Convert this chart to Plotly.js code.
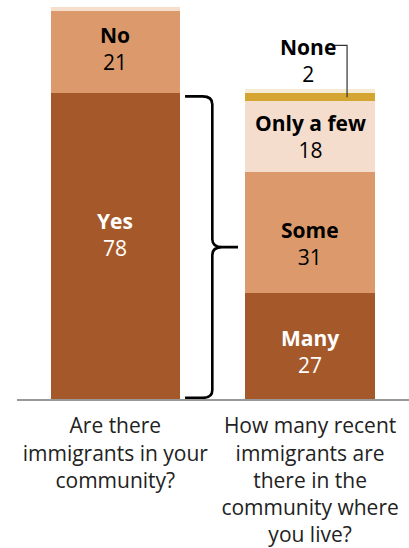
<!DOCTYPE html>
<html>
<head>
<meta charset="utf-8">
<script src="https://cdn.plot.ly/plotly-3.0.1.min.js"></script>
<style>html,body{margin:0;padding:0;background:#fff;}#chart{width:409px;height:548px;}</style>
</head>
<body>
<div id="chart"></div>
<script>
// ---- data ----
const questions = [
  'Are there<br>immigrants in your<br>community?',
  'How many recent<br>immigrants are<br>there in the<br>community where<br>you live?'
];
const leftCats = ['Yes', 'No', 'DK'];
const leftVals = [78, 21, 1];
const rightCats = ['Many', 'Some', 'Only a few', 'None', 'DK'];
const rightVals = [27, 31, 18, 2, 1];

// ---- styles ----
const leftColors = ['#a5592a', '#dc9a6c', '#f5decc'];
const rightColors = ['#a5592a', '#dc9a6c', '#f5ddcd', '#d4a530', '#f5ecd5'];
const leftTextColors = ['#ffffff', '#000000', null];
const rightTextColors = ['#ffffff', '#000000', '#000000', null, null];
const leftShift = [12, 4, 0];
const rightShift = [-5, -11, 0, 0, 0];
const FONT = 'Open Sans, Arial, sans-serif';
const barW = 0.664;

const traces = [];
const annotations = [];

function addBar(xpos, cats, vals, colors, textColors, shifts) {
  let base = 0;
  cats.forEach((c, i) => {
    traces.push({
      type: 'bar', x: [xpos], y: [vals[i]], width: [barW], name: c,
      marker: {color: colors[i], line: {width: 0}},
      hoverinfo: 'skip', showlegend: false
    });
    if (textColors[i]) {
      annotations.push({
        x: xpos, y: base + vals[i] / 2, xref: 'x', yref: 'y',
        text: '<b>' + c + '</b><br>' + vals[i], showarrow: false,
        font: {family: FONT, size: 21, color: textColors[i]},
        xanchor: 'center', yanchor: 'middle', yshift: shifts[i]
      });
    }
    base += vals[i];
  });
}
addBar(0, leftCats, leftVals, leftColors, leftTextColors, leftShift);
addBar(1, rightCats, rightVals, rightColors, rightTextColors, rightShift);

// "None" label with leader line
const noneIdx = rightCats.indexOf('None');
const noneBase = rightVals.slice(0, noneIdx).reduce((a, b) => a + b, 0);
const noneMid = noneBase + rightVals[noneIdx] / 2;
annotations.push({
  x: 0.99, y: 86.4, xref: 'x', yref: 'y',
  text: '<b>' + rightCats[noneIdx] + '</b><br>' + rightVals[noneIdx], showarrow: false,
  font: {family: FONT, size: 21, color: '#000000'}, xanchor: 'center', yanchor: 'middle'
});

// brace spanning the "Yes" share
const yesTop = leftVals[0] - 0.8, yB = 0.3, ym = (yesTop + yB) / 2, r = 2;
const x0 = 0.358, xv = 0.498, d = 0.05, xm = 0.63;
const bracePath =
  `M ${x0},${yesTop} L ${xv - d},${yesTop} Q ${xv},${yesTop} ${xv},${yesTop - r} ` +
  `L ${xv},${ym + r} Q ${xv},${ym} ${xv + d},${ym} L ${xm},${ym} ` +
  `M ${xv + d},${ym} Q ${xv},${ym} ${xv},${ym - r} L ${xv},${yB + r} ` +
  `Q ${xv},${yB} ${xv - d},${yB} L ${x0},${yB}`;

const leaderPath = `M 1.122,90.2 L 1.19,90.2 L 1.19,${noneMid}`;

const layout = {
  width: 409, height: 548,
  margin: {l: 17, r: 0, t: 7, b: 149},
  paper_bgcolor: '#ffffff', plot_bgcolor: '#ffffff',
  barmode: 'stack', bargap: 0,
  hovermode: false,
  showlegend: false,
  xaxis: {
    range: [-0.505, 1.508], tickvals: [0, 1], ticktext: questions,
    showgrid: false, zeroline: false, showline: true, linecolor: '#999999', linewidth: 2,
    ticks: '', ticklabelstandoff: 7,
    tickfont: {family: FONT, size: 21, color: '#222222'}, fixedrange: true
  },
  yaxis: {range: [0, 100], visible: false, showgrid: false, zeroline: false, fixedrange: true},
  annotations: annotations,
  shapes: [
    {type: 'path', xref: 'x', yref: 'y', path: bracePath, line: {color: '#000000', width: 2.6}},
    {type: 'path', xref: 'x', yref: 'y', path: leaderPath, line: {color: '#333333', width: 1.2}}
  ]
};

Plotly.newPlot('chart', traces, layout, {displayModeBar: false, staticPlot: true});
</script>
</body>
</html>
